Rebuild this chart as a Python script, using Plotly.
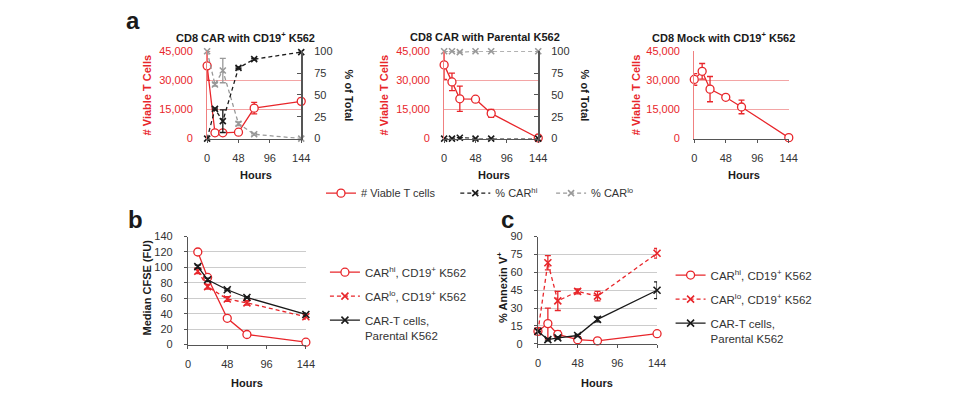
import plotly.graph_objects as go

# ---------------- data ----------------
hours_a = [0, 12, 24, 48, 72, 144]
a1_viable = [37500, 3000, 3000, 3300, 15700, 19200]
a1_viable_err = [7500, 500, 300, 500, 3000, 1500]
a1_hi = [0, 34, 20, 81, 91, 99]
a1_hi_err = [0, 1, 13, 1, 1, 0]
a1_lo = [100, 62, 78, 17, 5, 0]
a1_lo_err = [0, 2, 14, 2, 1, 0]

a2_viable = [38000, 29200, 20500, 20300, 13000, 300]
a2_viable_err = [7500, 4500, 6500, 500, 2000, 300]
a2_hi = [0, 0, 1, 0, 0, 0]
a2_lo = [100, 100, 99, 100, 100, 100]

a3_viable = [30500, 34700, 25500, 21300, 16300, 500]
a3_viable_err = [3000, 4000, 6500, 1000, 3500, 300]

hours_b = [12, 24, 48, 72, 144]
b_hi = [120, 87, 34, 13, 3]
b_lo = [95, 75, 59, 54, 36]
b_lo_err = [3, 3, 3, 3, 3]
b_ct = [101, 84, 71, 61, 39]
b_ct_err = [2, 2, 1, 1, 2]

hours_c = [0, 12, 24, 48, 72, 144]
c_hi = [10.5, 17, 8, 3.5, 2.5, 8.5]
c_hi_err = [0, 13, 3, 1, 0.5, 1]
c_lo = [10.5, 68, 36, 44, 40, 76]
c_lo_err = [0, 6, 8, 2, 4, 4]
c_ct = [10.5, 3.5, 5, 7, 20.5, 45]
c_ct_err = [0, 1, 1, 1, 2, 7]

hour_ticks = [0, 48, 96, 144]
viable_ticks = [0, 15000, 30000, 45000]
pct_ticks = [0, 25, 50, 75, 100]
cfse_ticks = [0, 20, 40, 60, 80, 100, 120, 140]
annex_ticks = [0, 15, 30, 45, 60, 75, 90]

# ---------------- style ----------------
W, H = 963, 400
RED = "#e8262b"
BLACK = "#1a1a1a"
GRAY = "#999999"
AXG = "#555555"
FONT = "Liberation Sans, Arial, sans-serif"


def fx(px):
    return px / W


def fy(py):
    return 1 - py / H


fig = go.Figure()


def viable_trace(y, err, xa, ya, show):
    return go.Scatter(
        x=hours_a, y=y, xaxis=xa, yaxis=ya, mode="lines+markers",
        name="# Viable T cells", showlegend=show, legend="legend", legendgroup="v",
        line=dict(color=RED, width=1.3),
        marker=dict(symbol="circle", size=8, color="white", line=dict(color=RED, width=1.3)),
        error_y=dict(type="data", array=err, color=RED, thickness=1.3, width=3),
        cliponaxis=False,
    )


def pct_trace(y, err, xa, ya, name, color, show, legend):
    return go.Scatter(
        x=hours_a, y=y, xaxis=xa, yaxis=ya, mode="lines+markers",
        name=name, showlegend=show, legend=legend,
        line=dict(color=color, width=1.3, dash="4px,3px"),
        marker=dict(symbol="x-thin", size=6, color=color, line=dict(color=color, width=1.6)),
        error_y=dict(type="data", array=err, color=color, thickness=1.3, width=3),
        cliponaxis=False,
    )


# panel a1
fig.add_trace(pct_trace(a1_lo, a1_lo_err, "x", "y2", "% CAR<sup>lo</sup>", GRAY, True, "legend5"))
fig.add_trace(pct_trace(a1_hi, a1_hi_err, "x", "y2", "% CAR<sup>hi</sup>", BLACK, True, "legend4"))
fig.add_trace(viable_trace(a1_viable, a1_viable_err, "x", "y", True))
# panel a2
fig.add_trace(pct_trace(a2_lo, [0] * 6, "x2", "y4", "% CAR<sup>lo</sup>", GRAY, False, "legend5"))
fig.add_trace(pct_trace(a2_hi, [0] * 6, "x2", "y4", "% CAR<sup>hi</sup>", BLACK, False, "legend4"))
fig.add_trace(viable_trace(a2_viable, a2_viable_err, "x2", "y3", False))
# panel a3
fig.add_trace(viable_trace(a3_viable, a3_viable_err, "x3", "y5", False))


def bc_traces(hours, hi, hi_err, lo, lo_err, ct, ct_err, xa, ya, legend):
    return [
        go.Scatter(
            x=hours, y=hi, xaxis=xa, yaxis=ya, mode="lines+markers",
            name="CAR<sup>hi</sup>, CD19<sup>+</sup> K562", legend=legend, legendgroup=legend + "a",
            line=dict(color=RED, width=1.3),
            marker=dict(symbol="circle", size=8, color="white", line=dict(color=RED, width=1.3)),
            error_y=dict(type="data", array=hi_err, color=RED, thickness=1.3, width=3),
            cliponaxis=False,
        ),
        go.Scatter(
            x=hours, y=lo, xaxis=xa, yaxis=ya, mode="lines+markers",
            name="CAR<sup>lo</sup>, CD19<sup>+</sup> K562", legend=legend, legendgroup=legend + "b",
            line=dict(color=RED, width=1.3, dash="4px,3px"),
            marker=dict(symbol="x-thin", size=7, color=RED, line=dict(color=RED, width=1.6)),
            error_y=dict(type="data", array=lo_err, color=RED, thickness=1.3, width=3),
            cliponaxis=False,
        ),
        go.Scatter(
            x=hours, y=ct, xaxis=xa, yaxis=ya, mode="lines+markers",
            name="CAR-T cells,<br>Parental K562", legend=legend, legendgroup=legend + "c",
            line=dict(color=BLACK, width=1.3),
            marker=dict(symbol="x-thin", size=7, color=BLACK, line=dict(color=BLACK, width=1.6)),
            error_y=dict(type="data", array=ct_err, color=BLACK, thickness=1.3, width=3),
            cliponaxis=False,
        ),
    ]


for t in bc_traces(hours_b, b_hi, [0] * 5, b_lo, b_lo_err, b_ct, b_ct_err, "x4", "y6", "legend2"):
    fig.add_trace(t)
for t in bc_traces(hours_c, c_hi, c_hi_err, c_lo, c_lo_err, c_ct, c_ct_err, "x5", "y7", "legend3"):
    fig.add_trace(t)

# ---------------- axes ----------------
tickfont = dict(family=FONT, size=11, color="#333333")
redtick = dict(family=FONT, size=11, color=RED)

ya_dom = [fy(136.7), fy(46.7)]


def xax(x0, x1, anchor):
    return dict(domain=[fx(x0), fx(x1)], anchor=anchor, range=[0, 144], tickvals=hour_ticks,
                showgrid=False, zeroline=False, showline=True, linecolor=AXG, linewidth=1.2,
                ticks="outside", ticklen=3, tickcolor=AXG, tickfont=tickfont,
                ticklabelstandoff=6)


def yleft(anchor):
    return dict(domain=ya_dom, anchor=anchor, range=[0, 45000], tickvals=viable_ticks,
                tickformat=",d", showgrid=True, gridcolor="#f3a5a5", gridwidth=1,
                zeroline=False, showline=True, linecolor="#f08080", linewidth=1.2,
                ticks="", tickfont=redtick, ticklabelstandoff=11)


def yright(overlay, anchor):
    return dict(overlaying=overlay, anchor=anchor, side="right", range=[0, 100],
                tickvals=pct_ticks, showgrid=False, zeroline=False, showline=True,
                linecolor=AXG, linewidth=1.5, ticks="inside", ticklen=4, tickcolor=AXG,
                tickfont=tickfont, ticklabelstandoff=9)


def ybc(y0, y1, anchor, rng, vals):
    return dict(domain=[fy(y0), fy(y1)], anchor=anchor, range=rng, tickvals=vals,
                showgrid=True, gridcolor="#cccccc", zeroline=False, showline=True,
                linecolor=AXG, linewidth=1.2, ticks="outside", ticklen=3, tickcolor=AXG,
                tickfont=tickfont, ticklabelstandoff=9)


fig.update_layout(
    xaxis=xax(206.7, 302, "y"),
    yaxis=yleft("x"),
    yaxis2=yright("y", "x"),
    xaxis2=xax(446.7, 542, "y3"),
    yaxis3=yleft("x2"),
    yaxis4=yright("y3", "x2"),
    xaxis3=xax(700, 795.7, "y5"),
    yaxis5=yleft("x3"),
    xaxis4=xax(187.3, 306.7, "y6"),
    yaxis6=ybc(349, 237.7, "x4", [0, 140], cfse_ticks),
    xaxis5=xax(541.7, 662.3, "y7"),
    yaxis7=ybc(348.3, 237.7, "x5", [0, 90], annex_ticks),
)

legfont = dict(family=FONT, size=11, color="#333333")
legfont2 = dict(family=FONT, size=11.5, color="#333333")


def leg_a(px):
    return dict(orientation="h", x=fx(px), y=fy(178), xanchor="left", yanchor="top",
                font=legfont, bgcolor="rgba(0,0,0,0)")


fig.update_layout(
    legend=leg_a(322),
    legend4=leg_a(458),
    legend5=leg_a(555),
    legend2=dict(orientation="v", x=fx(326), y=fy(260), xanchor="left", yanchor="top",
                 font=legfont2, bgcolor="rgba(0,0,0,0)",
                 traceorder="grouped", tracegroupgap=5, valign="top"),
    legend3=dict(orientation="v", x=fx(676), y=fy(263), xanchor="left", yanchor="top",
                 font=legfont2, bgcolor="rgba(0,0,0,0)",
                 traceorder="grouped", tracegroupgap=5, valign="top"),
)

# ---------------- annotations ----------------
ann = []


def text(px, py, s, size=11, color=BLACK, bold=True, angle=0, xanchor="center"):
    ann.append(dict(x=fx(px), y=fy(py), xref="paper", yref="paper", text=(f"<b>{s}</b>" if bold else s),
                    showarrow=False, textangle=angle, xanchor=xanchor, yanchor="middle",
                    font=dict(family=FONT, size=size, color=color)))


text(132, 15, "a", size=24)
text(134, 220, "b", size=24)
text(511, 220, "c", size=24)

text(246, 32, "CD8 CAR with CD19<sup>+</sup> K562", size=11)
text(488, 32, "CD8 CAR with Parental K562", size=11)
text(730, 32, "CD8 Mock with CD19<sup>+</sup> K562", size=11)

for px in (146, 386, 641):
    text(px, 92, "# Viable T Cells", size=11, color=RED, angle=-90)
for px in (350, 589):
    text(px, 92, "% of Total", size=11, angle=90)

text(256, 174, "Hours", size=11)
text(497, 174, "Hours", size=11)
text(750, 174, "Hours", size=11)
text(247, 389, "Hours", size=11)
text(602, 389, "Hours", size=11)

text(146, 290, "Median CFSE (FU)", size=11, angle=-90)
text(506, 290, "% Annexin V<sup>+</sup>", size=11, angle=-90)

fig.update_layout(
    annotations=ann,
    width=W, height=H,
    margin=dict(l=0, r=0, t=0, b=0),
    paper_bgcolor="white", plot_bgcolor="white",
    font=dict(family=FONT),
)

fig.write_html("out.html")
